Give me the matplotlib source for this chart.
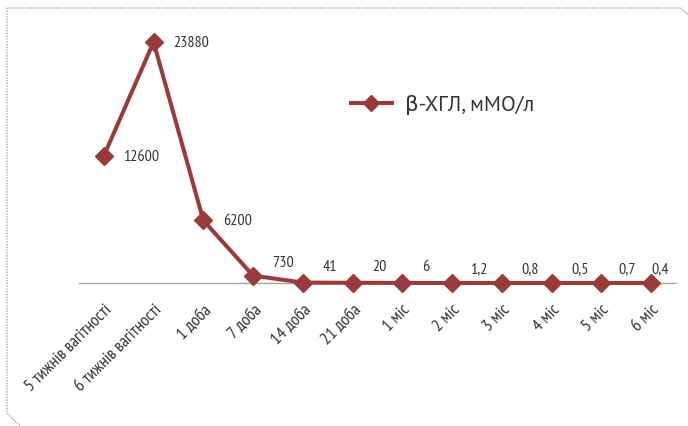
import matplotlib
matplotlib.use("Agg")
import matplotlib.pyplot as plt
from matplotlib.lines import Line2D

plt.rcParams["font.family"] = ["PT Sans Narrow", "Roboto Condensed", "DejaVu Sans"]

# hCG level over time
periods = [
    "5 тижнів вагітності", "6 тижнів вагітності", "1 доба", "7 доба",
    "14 доба", "21 доба", "1 міс", "2 міс", "3 міс", "4 міс", "5 міс", "6 міс",
]
hcg = [12600, 23880, 6200, 730, 41, 20, 6, 1.2, 0.8, 0.5, 0.7, 0.4]
hcg_labels = ["12600", "23880", "6200", "730", "41", "20", "6",
              "1,2", "0,8", "0,5", "0,7", "0,4"]
series_name = "β-ХГЛ, мМО/л"

# label offsets in points (dx, dy) relative to each marker
label_offsets = [(14, 0), (14, 0), (14, 0), (14, 10), (14, 12), (14, 12),
                 (14, 12), (13, 11), (14, 11), (14, 11), (12, 11), (0, 11)]

color = "#9B3A3A"
text_color = "#333333"

fig = plt.figure(figsize=(6.88, 4.27), dpi=100)
ax = fig.add_axes([0.1148, 0.3349, 0.8677, 0.6145])

x = list(range(len(periods)))
ax.plot(x, hcg, color=color, lw=2.9, marker="D", ms=9.5,
        solid_joinstyle="miter", zorder=3, clip_on=False)

for xi, v, lab, (dx, dy) in zip(x, hcg, hcg_labels, label_offsets):
    ax.annotate(lab, (xi, v), xytext=(dx, dy), textcoords="offset points",
                ha="left", va="center", fontsize=11.5, color=text_color)

ax.set_xlim(-0.5, len(periods) - 0.5)
ax.set_ylim(0, 26000)
ax.set_yticks([])
for side in ["left", "right", "top"]:
    ax.spines[side].set_visible(False)
ax.spines["bottom"].set_color("#A6A6A6")
ax.spines["bottom"].set_linewidth(1.0)
ax.spines["bottom"].set_zorder(1)

ax.set_xticks(x)
ax.set_xticklabels(periods, rotation=45, ha="right", rotation_mode="anchor",
                   fontsize=12.5, color=text_color)
ax.tick_params(axis="x", length=0, pad=13)

legend_handle = Line2D([], [], color=color, lw=2.9, marker="D", ms=8)
fig.legend([legend_handle], [series_name], loc="center left",
           bbox_to_anchor=(0.482, 0.754), frameon=False,
           prop={"family": ["PT Sans", "DejaVu Sans"], "size": 15.5},
           handlelength=1.9, handletextpad=0.6, labelcolor=text_color)

# dotted frame around the chart area
W, H = 688.0, 427.0
frame_px = [(20, 427), (7, 414), (7, 9), (681, 9), (688, 16)]
fig.add_artist(Line2D([p[0] / W for p in frame_px],
                      [1 - p[1] / H for p in frame_px],
                      transform=fig.transFigure, color="#A6A6A6",
                      lw=1.0, ls=(0, (1, 1))))

fig.savefig("out.png", dpi=100)
